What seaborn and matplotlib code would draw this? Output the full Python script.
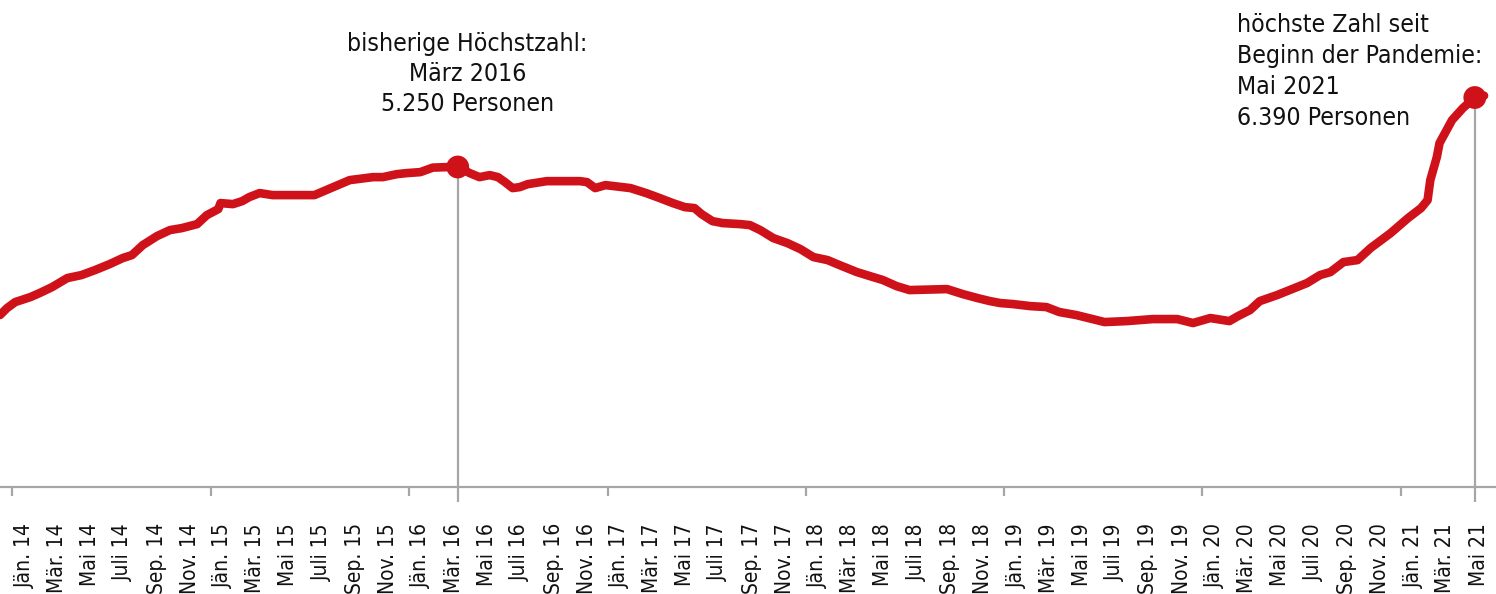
import numpy as np
import pandas as pd
import matplotlib
matplotlib.use("Agg")
import matplotlib.pyplot as plt
import matplotlib.dates as mdates
from matplotlib import font_manager
import seaborn as sns

# ---------------- data ----------------
dates = [
    "2013-12-09", "2013-12-22", "2014-01-06", "2014-02-03", "2014-02-20", "2014-03-15",
    "2014-04-12", "2014-05-08", "2014-06-02", "2014-06-29", "2014-07-23", "2014-08-09",
    "2014-08-29", "2014-09-24", "2014-10-18", "2014-11-09", "2014-12-07", "2014-12-25",
    "2015-01-15", "2015-01-19", "2015-02-11", "2015-02-28", "2015-03-13", "2015-04-01",
    "2015-04-25", "2015-07-11", "2015-09-14", "2015-10-27", "2015-11-14", "2015-12-10",
    "2015-12-28", "2016-01-22", "2016-02-14", "2016-03-10", "2016-03-31", "2016-04-22",
    "2016-05-10", "2016-05-29", "2016-06-13", "2016-06-26", "2016-07-10", "2016-07-23",
    "2016-08-07", "2016-09-11", "2016-11-11", "2016-11-24", "2016-12-09", "2016-12-28",
    "2017-02-12", "2017-03-13", "2017-04-07", "2017-05-01", "2017-05-23", "2017-06-10",
    "2017-06-23", "2017-07-13", "2017-08-01", "2017-09-02", "2017-09-20", "2017-10-09",
    "2017-11-02", "2017-11-28", "2017-12-22", "2018-01-15", "2018-02-10", "2018-03-04",
    "2018-04-05", "2018-04-29", "2018-05-23", "2018-06-17", "2018-07-11", "2018-09-18",
    "2018-10-17", "2018-11-13", "2018-12-06", "2018-12-25", "2019-01-18", "2019-02-18",
    "2019-03-20", "2019-04-13", "2019-05-14", "2019-06-13", "2019-07-05", "2019-08-15",
    "2019-10-02", "2019-11-16", "2019-12-15", "2020-01-16", "2020-02-20", "2020-03-07",
    "2020-03-29", "2020-04-16", "2020-05-18", "2020-07-12", "2020-08-05", "2020-08-24",
    "2020-09-17", "2020-10-13", "2020-11-06", "2020-12-13", "2021-01-14", "2021-02-07",
    "2021-02-19", "2021-02-24", "2021-03-08", "2021-03-13", "2021-04-05", "2021-04-25",
    "2021-05-17", "2021-06-03",
]
persons = [
    2821, 2936, 3034, 3116, 3182, 3280,
    3428, 3477, 3559, 3657, 3756, 3805,
    3969, 4116, 4215, 4248, 4313, 4461,
    4559, 4658, 4641, 4690, 4756, 4822,
    4789, 4789, 5035, 5084, 5084, 5133,
    5150, 5166, 5240, 5248, 5250, 5150,
    5084, 5117, 5084, 5002, 4904, 4920,
    4969, 5018, 5018, 5002, 4904, 4953,
    4904, 4822, 4740, 4658, 4592, 4576,
    4477, 4362, 4330, 4313, 4297, 4215,
    4084, 4002, 3903, 3772, 3723, 3641,
    3526, 3460, 3395, 3296, 3231, 3247,
    3165, 3100, 3050, 3018, 3001, 2968,
    2952, 2870, 2821, 2755, 2706, 2722,
    2755, 2755, 2690, 2772, 2722, 2804,
    2903, 3050, 3149, 3346, 3477, 3526,
    3690, 3723, 3920, 4166, 4412, 4576,
    4707, 5035, 5412, 5642, 6019, 6216,
    6390, 6420,
]

peak_date, peak_value = "2016-03-31", 5250
last_date, last_value = "2021-05-17", 6390
peak_text = "bisherige Höchstzahl:\nMärz 2016\n5.250 Personen"
last_text = "höchste Zahl seit\nBeginn der Pandemie:\nMai 2021\n6.390 Personen"

month_abbr = {1: "Jän.", 3: "Mär.", 5: "Mai", 7: "Juli", 9: "Sep.", 11: "Nov."}
label_months = pd.date_range("2013-11-01", "2021-05-01", freq="2MS")
year_starts = pd.date_range("2014-01-01", "2021-01-01", freq="YS")

# ---------------- style ----------------
RED = "#cf1219"
GREY = "#a6a6a6"
TXT = "#111111"

sns.set_style("white")
names = {f.name for f in font_manager.fontManager.ttflist}
if "Liberation Sans Narrow" in names:
    plt.rcParams["font.family"] = ["Liberation Sans Narrow", "DejaVu Sans"]
    stretch = "normal"
else:
    plt.rcParams["font.family"] = ["DejaVu Sans"]
    stretch = "condensed"
plt.rcParams["font.stretch"] = stretch

df = pd.DataFrame({"date": pd.to_datetime(dates), "persons": persons})

fig = plt.figure(figsize=(14.96, 5.94), dpi=100)
ax = fig.add_axes([0, 107 / 594, 1, 487 / 594])

sns.lineplot(data=df, x="date", y="persons", color=RED, linewidth=6.2,
             ax=ax, solid_capstyle="round", solid_joinstyle="round", zorder=3)

ymax = 7990
ax.set_ylim(0, ymax)
ax.set_xlim(pd.Timestamp("2013-12-09"), pd.Timestamp("2021-06-25"))

# markers + vertical guide lines
marks = pd.DataFrame({"date": pd.to_datetime([peak_date, last_date]),
                      "persons": [peak_value, last_value]})
for d, v in zip(marks["date"], marks["persons"]):
    ax.vlines(d, -ymax * 15 / 487, v, color=GREY, linewidth=1.6, zorder=2, clip_on=False)
sns.scatterplot(data=marks, x="date", y="persons", color=RED, s=270,
                edgecolor="none", ax=ax, zorder=4, legend=False)

# annotations
ax.annotate(peak_text, xy=(pd.Timestamp(peak_date), peak_value), xytext=(7, 67),
            textcoords="offset points", ha="center", va="center",
            fontsize=17.8, color=TXT, linespacing=1.3, annotation_clip=False)
ax.annotate(last_text, xy=(pd.Timestamp(last_date), last_value), xytext=(-171, 19),
            textcoords="offset points", ha="left", va="center",
            fontsize=17.8, color=TXT, linespacing=1.37, annotation_clip=False)

# axes styling
for s in ["top", "right", "left"]:
    ax.spines[s].set_visible(False)
ax.spines["bottom"].set_color(GREY)
ax.spines["bottom"].set_linewidth(1.6)
ax.set_yticks([])
ax.set_xlabel("")
ax.set_ylabel("")

ax.set_xticks(year_starts)
ax.set_xticklabels([])
ax.tick_params(axis="x", which="major", bottom=True, length=6.5, width=1.6,
               color=GREY, direction="out")

label_pos = [m + pd.Timedelta(days=23) for m in label_months]
label_txt = [f"{month_abbr[m.month]} {m.year % 100:02d}" for m in label_months]
for p, t in zip(label_pos, label_txt):
    ax.annotate(t, xy=(mdates.date2num(p), 0), xycoords=("data", "axes fraction"),
                xytext=(0, -26), textcoords="offset points", rotation=90,
                ha="center", va="top", fontsize=15, color=TXT,
                annotation_clip=False)

fig.savefig("out.png", dpi=100, facecolor="white")
